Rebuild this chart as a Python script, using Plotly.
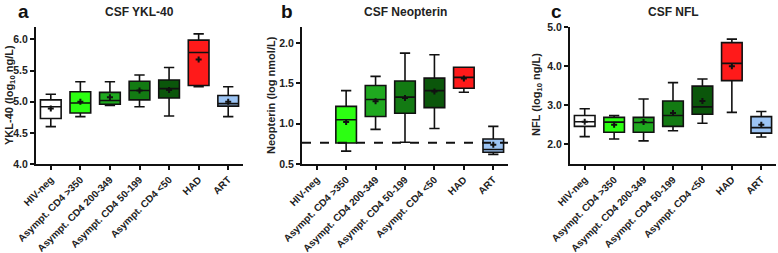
import plotly.graph_objects as go

groups = ["HIV-neg", "Asympt. CD4 >350", "Asympt. CD4 200-349", "Asympt. CD4 50-199",
          "Asympt. CD4 <50", "HAD", "ART"]
colors = ["#ffffff", "#2cff12", "#1fa81f", "#137a13", "#0b560b", "#ff1a1a", "#9cc4f4"]

# Panel a: CSF YKL-40 (log10 ng/L)
ykl_low = [4.60, 4.76, 4.94, 4.92, 4.77, 5.24, 4.76]
ykl_q1 = [4.73, 4.82, 4.96, 5.03, 5.06, 5.26, 4.93]
ykl_med = [4.92, 4.98, 5.02, 5.18, 5.21, 5.79, 4.97]
ykl_q3 = [5.03, 5.16, 5.15, 5.33, 5.35, 5.99, 5.10]
ykl_high = [5.12, 5.32, 5.32, 5.43, 5.55, 6.09, 5.24]
ykl_mean = [4.89, 5.00, 5.07, 5.18, 5.19, 5.68, 5.00]

# Panel b: CSF Neopterin (log nmol/L); HIV-neg not shown
neo_low = [None, 0.66, 0.93, 0.77, 0.94, 1.39, 0.62]
neo_q1 = [None, 0.76, 1.09, 1.13, 1.20, 1.44, 0.645]
neo_med = [None, 1.05, 1.30, 1.33, 1.41, 1.575, 0.68]
neo_q3 = [None, 1.215, 1.475, 1.53, 1.566, 1.70, 0.81]
neo_high = [None, 1.41, 1.587, 1.876, 1.855, 1.70, 0.967]
neo_mean = [None, 1.02, 1.28, 1.32, 1.40, 1.56, 0.74]
neo_ref = 0.763

# Panel c: CSF NFL (log10 ng/L)
nfl_low = [2.20, 2.14, 2.09, 2.35, 2.54, 2.82, 2.19]
nfl_q1 = [2.46, 2.31, 2.31, 2.46, 2.77, 3.63, 2.29]
nfl_med = [2.58, 2.57, 2.56, 2.74, 2.96, 4.07, 2.43]
nfl_q3 = [2.74, 2.69, 2.69, 3.11, 3.49, 4.60, 2.71]
nfl_high = [2.91, 2.74, 3.16, 3.58, 3.67, 4.69, 2.84]
nfl_mean = [2.58, 2.50, 2.57, 2.80, 3.11, 4.00, 2.50]

panels = [
    ("x", "y", ykl_low, ykl_q1, ykl_med, ykl_q3, ykl_high, ykl_mean),
    ("x2", "y2", neo_low, neo_q1, neo_med, neo_q3, neo_high, neo_mean),
    ("x3", "y3", nfl_low, nfl_q1, nfl_med, nfl_q3, nfl_high, nfl_mean),
]

fig = go.Figure()
for xa, ya, lo, q1, med, q3, hi, mn in panels:
    for i in range(len(groups)):
        if med[i] is None:
            continue
        fig.add_trace(go.Box(
            x=[i], lowerfence=[lo[i]], q1=[q1[i]], median=[med[i]], q3=[q3[i]],
            upperfence=[hi[i]], width=0.7, whiskerwidth=0.5,
            fillcolor=colors[i], line=dict(color="#111111", width=1.6),
            boxpoints=False, showlegend=False, xaxis=xa, yaxis=ya, hoverinfo="skip"))
    xs = [i for i in range(len(groups)) if mn[i] is not None]
    ys = [mn[i] for i in xs]
    fig.add_trace(go.Scatter(x=xs, y=ys, mode="markers", xaxis=xa, yaxis=ya,
                             marker=dict(symbol="cross", size=5, color="#111111"),
                             showlegend=False, hoverinfo="skip"))

font_fam = "Liberation Sans, Arial, sans-serif"
xtickfont = dict(family=font_fam, size=10, color="#222222", weight="bold")
ytickfont = dict(family=font_fam, size=10.5, color="#222222", weight="bold")

xdoms = [[36 / 778, 243 / 778], [302 / 778, 508 / 778], [570 / 778, 776 / 778]]
ydom = [1 - 164 / 253, 1 - 27 / 253]
yranges = [[4.0, 6.2], [0.5, 2.2], [1.5, 5.0]]
ytickvals = [[4.0, 4.5, 5.0, 5.5, 6.0], [0.5, 1.0, 1.5, 2.0], [2.0, 3.0, 4.0, 5.0]]

layout = dict(width=778, height=253, margin=dict(l=0, r=0, t=0, b=0, autoexpand=False),
              paper_bgcolor="white", plot_bgcolor="white", boxmode="overlay",
              font=dict(family=font_fam, color="#222222"))
for k in range(3):
    sfx = "" if k == 0 else str(k + 1)
    layout["xaxis" + sfx] = dict(
        domain=xdoms[k], anchor="y" + sfx, range=[-0.5, 6.5], automargin=False,
        tickvals=list(range(len(groups))), ticktext=groups, tickangle=-45,
        tickfont=xtickfont, showline=True, linecolor="#111111", linewidth=2,
        ticks="outside", ticklen=4, tickwidth=1.5, tickcolor="#111111",
        showgrid=False, zeroline=False, fixedrange=True)
    layout["yaxis" + sfx] = dict(
        domain=ydom, anchor="x" + sfx, range=yranges[k], tickvals=ytickvals[k],
        ticktext=["%.1f" % v for v in ytickvals[k]], automargin=False,
        tickfont=ytickfont, showline=True, linecolor="#111111", linewidth=2,
        ticks="outside", ticklen=4, tickwidth=1.5, tickcolor="#111111",
        showgrid=False, zeroline=False, fixedrange=True)
fig.update_layout(**layout)

fig.add_shape(type="line", xref="x2", yref="y2", x0=-0.5, x1=6.5, y0=neo_ref, y1=neo_ref,
              line=dict(color="#111111", width=2, dash="dash"))

titles = ["CSF YKL-40", "CSF Neopterin", "CSF NFL"]
letters = ["a", "b", "c"]
letter_x = [23, 287, 556]
ytitles = ["YKL-40 (log<sub>10</sub> ng/L)", "Neopterin (log nmol/L)", "NFL (log<sub>10</sub> ng/L)"]
ytitle_x = [10, 271, 537]
for k in range(3):
    cx = (xdoms[k][0] + xdoms[k][1]) / 2
    fig.add_annotation(x=cx, y=1 - 12 / 253, xref="paper", yref="paper", text="<b>%s</b>" % titles[k],
                       xanchor="center", yanchor="middle",
                       showarrow=False, font=dict(family=font_fam, size=12, color="#222222"))
    fig.add_annotation(x=letter_x[k] / 778, y=1 - 12 / 253, xref="paper", yref="paper",
                       text="<b>%s</b>" % letters[k], showarrow=False,
                       xanchor="center", yanchor="middle",
                       font=dict(family=font_fam, size=19, color="#111111"))
    fig.add_annotation(x=ytitle_x[k] / 778, y=1 - 95 / 253, xref="paper", yref="paper",
                       text="<b>%s</b>" % ytitles[k], showarrow=False, textangle=-90,
                       xanchor="center", yanchor="middle",
                       font=dict(family=font_fam, size=11, color="#222222"))

fig.write_html("out.html", config={"displayModeBar": False},
               post_script="document.body.style.margin='0';document.body.style.overflow='hidden';")
